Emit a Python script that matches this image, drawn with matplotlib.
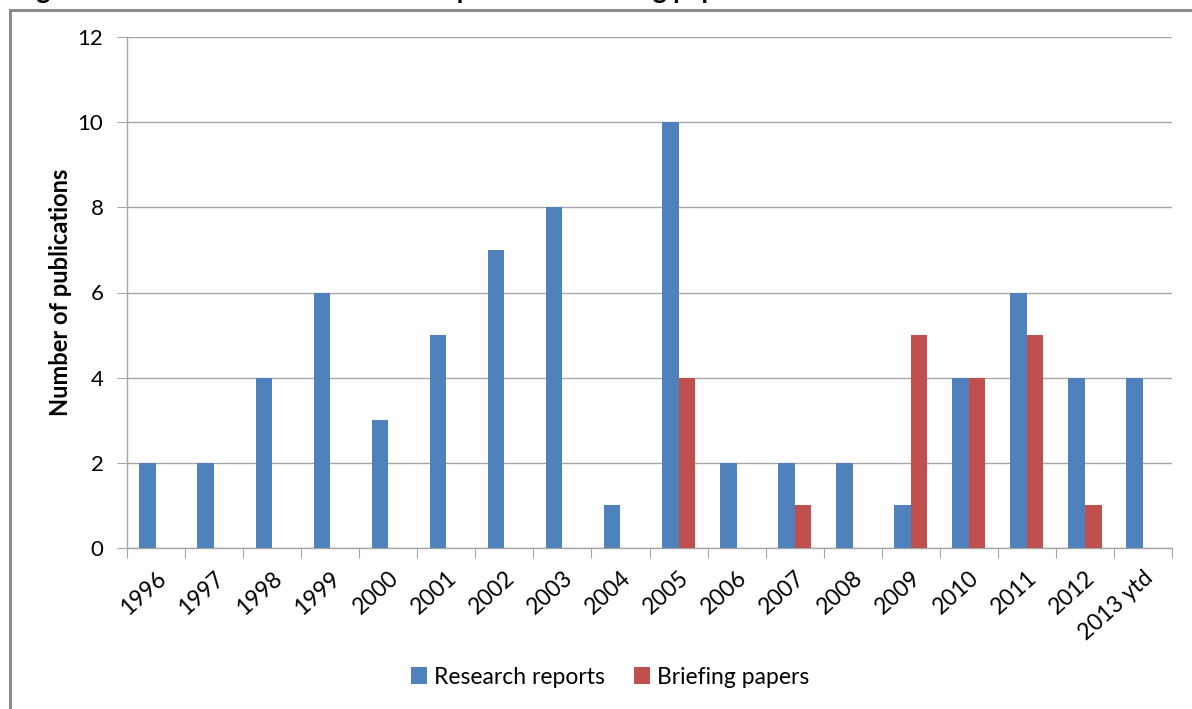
import matplotlib
matplotlib.use("Agg")
import matplotlib.pyplot as plt
from matplotlib.patches import Rectangle
import numpy as np

plt.rcParams['font.family'] = ['Lato', 'DejaVu Sans']

years = ['1996', '1997', '1998', '1999', '2000', '2001', '2002', '2003', '2004',
         '2005', '2006', '2007', '2008', '2009', '2010', '2011', '2012', '2013 ytd']
research_reports = [2, 2, 4, 6, 3, 5, 7, 8, 1, 10, 2, 2, 2, 1, 4, 6, 4, 4]
briefing_papers = [0, 0, 0, 0, 0, 0, 0, 0, 0, 4, 0, 1, 0, 5, 4, 5, 1, 0]
y_ticks = [0, 2, 4, 6, 8, 10, 12]

W, H = 1192, 709
fig = plt.figure(figsize=(W / 100, H / 100), dpi=100)

# chart frame (only top and left edges fall inside the image)
fig.patches.append(Rectangle((10 / W, -0.1), 1.2, 1.1 - 10 / H, transform=fig.transFigure,
                             fill=False, edgecolor='#8c8c8c', linewidth=2.2, zorder=0))

# caption sitting above the frame, mostly cut off by the image edge
fig.text(15 / W, 1 + 1 / H, 'Figure 5: Number of HSL Research Reports and Briefing papers 1996-2013',
         fontsize=19, fontweight='bold', ha='left', va='baseline', color='black')

ax = fig.add_axes([127 / W, 1 - 548 / H, (1172 - 127) / W, (548 - 37) / H])

x = np.arange(len(years))
bw = 1 / 3.5
ax.bar(x - bw / 2, research_reports, bw, color='#4F81BD', label='Research reports', zorder=3)
ax.bar(x + bw / 2, briefing_papers, bw, color='#C0504D', label='Briefing papers', zorder=3)

ax.set_xlim(-0.5, len(years) - 0.5)
ax.set_ylim(0, 12)
ax.set_yticks(y_ticks)
ax.set_yticklabels([str(v) for v in y_ticks], fontsize=16)
ax.grid(axis='y', color='#a6a6a6', linewidth=1, zorder=0)
ax.tick_params(axis='y', direction='out', length=7, color='#a6a6a6', pad=10)

# category ticks sit on the boundaries between years
ax.set_xticks(np.arange(len(years) + 1) - 0.5)
ax.set_xticklabels([])
ax.set_xticks(x, minor=True)
ax.set_xticklabels(years, minor=True, rotation=42, ha='right', va='top',
                   rotation_mode='anchor', fontsize=16.5)
ax.tick_params(axis='x', which='major', direction='out', length=7, color='#a6a6a6')
ax.tick_params(axis='x', which='minor', length=0, pad=14)

for side in ['top', 'right']:
    ax.spines[side].set_visible(False)
for side in ['left', 'bottom']:
    ax.spines[side].set_color('#a6a6a6')
    ax.spines[side].set_linewidth(1)

ax.set_ylabel('Number of publications', fontsize=17, fontweight='bold', labelpad=4)

fig.legend(loc='center', bbox_to_anchor=(610 / W, 1 - 677 / H), ncol=2, frameon=False,
           fontsize=16.5, handlelength=0.7, handleheight=0.7, handletextpad=0.3,
           columnspacing=1.3)

fig.savefig('out.png', dpi=100)
